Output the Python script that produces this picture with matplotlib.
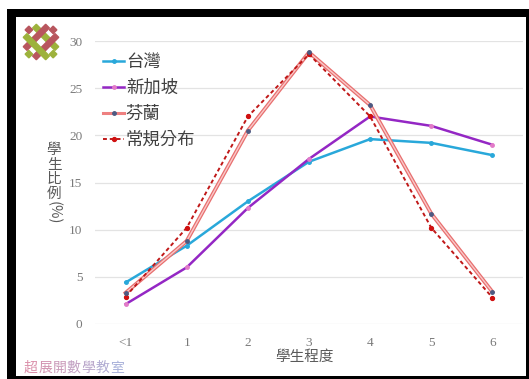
import numpy as np
import matplotlib
matplotlib.use("Agg")
import matplotlib.pyplot as plt
from matplotlib.patches import Rectangle
from matplotlib.lines import Line2D
import matplotlib.transforms as mtransforms

plt.rcParams["font.family"] = ["Noto Sans CJK TC", "DejaVu Sans"]

# ── 資料 ──
levels = ["<1", "1", "2", "3", "4", "5", "6"]
taiwan = [4.4, 8.3, 13.0, 17.2, 19.6, 19.2, 17.9]
singapore = [2.1, 6.0, 12.3, 17.5, 22.0, 21.0, 19.0]
finland = [3.3, 8.8, 20.5, 28.8, 23.2, 11.7, 3.4]
normal = [2.9, 10.2, 22.0, 28.6, 22.0, 10.2, 2.8]
series_names = ["台灣", "新加坡", "芬蘭", "常規分布"]
y_ticks = [0, 5, 10, 15, 20, 25, 30]

W, H = 529, 379
fig = plt.figure(figsize=(W / 100, H / 100), dpi=100)
fig.patch.set_facecolor("white")


def px(x, y):
    """像素座標(左上為原點) -> figure 座標"""
    return x / W, 1 - y / H


# 黑色外框
fig.patches.append(Rectangle((7 / W, 0), 522 / W, 370 / H, transform=fig.transFigure,
                             facecolor="black", edgecolor="none", zorder=-20))
fig.patches.append(Rectangle((16 / W, 3 / H), 510 / W, 359 / H, transform=fig.transFigure,
                             facecolor="white", edgecolor="none", zorder=-10))

ax = fig.add_axes([95 / W, 55 / H, 428 / W, 283 / H])
ax.set_facecolor("none")
x = np.arange(len(levels))

ax.plot(x, taiwan, color="#29A8DA", lw=1.8, marker="o", ms=2.5,
        mfc="#29A8DA", mec="#29A8DA", zorder=3)
ax.plot(x, singapore, color="#9427C4", lw=1.8, marker="o", ms=2.5,
        mfc="#E27BC8", mec="#E27BC8", zorder=3)
# 芬蘭: 雙線效果
ax.plot(x, finland, color="#E86F6F", lw=2.8, zorder=4)
ax.plot(x, finland, color="#F9C9C9", lw=1.0, zorder=4)
ax.plot(x, finland, ls="none", marker="o", ms=2.5, mfc="#4C5A82", mec="#4C5A82", zorder=6)
ax.plot(x, normal, color="#C01818", lw=1.4, ls=(0, (2.0, 1.5)), marker="o", ms=2.8,
        mfc="#D01010", mec="#D01010", zorder=5)

ax.set_xlim(-0.5, 6.5)
ax.set_ylim(0, 30)
ax.set_yticks(y_ticks)
ax.set_xticks(x)
ax.set_xticklabels(levels)
ax.grid(axis="y", color="#E3E3E3", lw=0.9)
ax.set_axisbelow(True)
for s in ax.spines.values():
    s.set_visible(False)
ax.tick_params(length=0, labelcolor="#7A7A7A", pad=9)
ax.tick_params(axis="y", pad=9)
for lab in ax.get_xticklabels() + ax.get_yticklabels():
    lab.set_family("Liberation Serif")
    lab.set_fontsize(9.5)

# 圖例
handles = [
    Line2D([], [], color="#29A8DA", lw=1.8, marker="o", ms=2.5, mfc="#29A8DA", mec="#29A8DA"),
    Line2D([], [], color="#9427C4", lw=1.8, marker="o", ms=2.5, mfc="#E27BC8", mec="#E27BC8"),
    Line2D([], [], color="#EE8080", lw=2.2, marker="o", ms=2.5, mfc="#4C5A82", mec="#4C5A82"),
    Line2D([], [], color="#C01818", lw=1.4, ls=(0, (2.0, 1.5)), marker="o", ms=2.8,
           mfc="#D01010", mec="#D01010"),
]
leg = ax.legend(handles, series_names, loc="upper left", bbox_to_anchor=(-0.005, 0.995),
                frameon=False, fontsize=12.5, handlelength=1.2, handletextpad=0.1,
                labelspacing=0.46, borderaxespad=0.2)
for t in leg.get_texts():
    t.set_color("#404040")

# 軸標題
fig.text(*px(305, 357), "學生程度", ha="center", va="center", fontsize=10.5, color="#595959")
for i, ch in enumerate("學生比例"):
    fig.text(*px(54, 150 + i * 14.5), ch, ha="center", va="center", fontsize=10.5, color="#595959")
fig.text(*px(54, 213), "(%)", ha="center", va="center", fontsize=10.5, color="#595959", rotation=270)

# 左上角標誌: 45 度交織格紋
logo_ax = fig.add_axes([19 / W, 1 - 64 / H, 44 / W, 44 / H])
logo_ax.set_xlim(-1, 1)
logo_ax.set_ylim(-1, 1)
logo_ax.axis("off")
rot = mtransforms.Affine2D().rotate_deg(45) + logo_ax.transData
green, red = "#9DB23C", "#B8565E"
bw = 0.24
for off in (-0.3, 0.3):
    logo_ax.add_patch(Rectangle((-0.72, off - bw / 2), 1.44, bw, color=red, transform=rot,
                                clip_on=False, zorder=2))
for off, z in ((-0.3, 3), (0.3, 1)):
    logo_ax.add_patch(Rectangle((off - bw / 2, -0.72), bw, 1.44, color=green, transform=rot,
                                clip_on=False, zorder=z))
for cx, cy, c in ((0.0, 0.78, red), (0.0, -0.78, green), (-0.78, 0.0, green), (0.78, 0.0, red)):
    logo_ax.add_patch(Rectangle((cx - bw / 2, cy - bw / 2), bw, bw, color=c, transform=rot,
                                clip_on=False, zorder=2))

# 浮水印
wm = "超展開數學教室"
c0 = np.array([0.82, 0.45, 0.58])
c1 = np.array([0.58, 0.62, 0.82])
for i, ch in enumerate(wm):
    t = i / (len(wm) - 1)
    fig.text(*px(31 + i * 14.3, 368), ch, ha="center", va="center", fontsize=10,
             color=tuple(c0 * (1 - t) + c1 * t), alpha=0.8)

fig.savefig("out.png", dpi=100)
